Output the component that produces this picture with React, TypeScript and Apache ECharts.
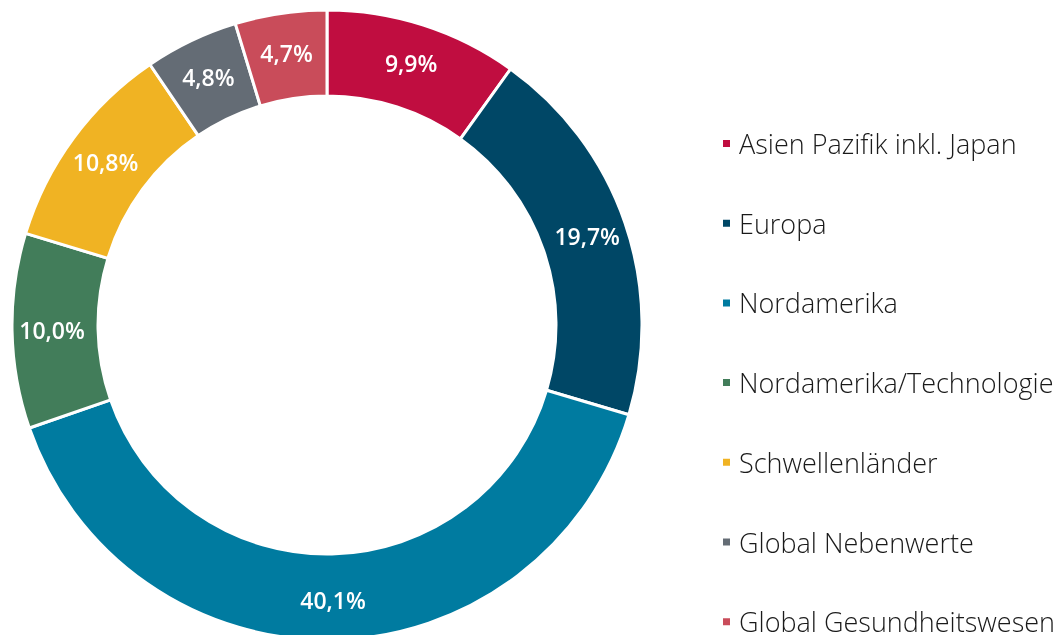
import React, { useEffect, useRef } from "react";
import * as echarts from "echarts";

const categories = [
  "Asien Pazifik inkl. Japan",
  "Europa",
  "Nordamerika",
  "Nordamerika/Technologie",
  "Schwellenländer",
  "Global Nebenwerte",
  "Global Gesundheitswesen",
];
const values = [9.9, 19.7, 40.1, 10.0, 10.8, 4.8, 4.7];
const colors = ["#C00D40", "#004766", "#007BA0", "#427D5A", "#F0B323", "#646C75", "#C94C5A"];

export default function App() {
  const ref = useRef<HTMLDivElement>(null);
  useEffect(() => {
    const chart = echarts.init(ref.current!, null, { renderer: "svg" });
    chart.setOption({
      animation: false,
      legend: {
        orient: "vertical",
        left: 721,
        top: 130,
        height: 620,
        padding: 0,
        itemWidth: 9,
        itemHeight: 9,
        itemGap: 52.7,
        icon: "rect",
        textStyle: {
          fontSize: 27,
          fontWeight: 300,
          lineHeight: 20,
          color: "#1a1a1a",
          fontFamily: "Open Sans",
          padding: [0, 0, 0, 3],
        },
        data: categories,
      },
      series: [
        {
          type: "pie",
          center: [327, 325],
          radius: [229, 315],
          startAngle: 90,
          clockwise: true,
          avoidLabelOverlap: false,
          itemStyle: { borderColor: "#fff", borderWidth: 3 },
          label: {
            show: true,
            position: "inside",
            formatter: (p: any) => p.value.toFixed(1).replace(".", ",") + "%",
            color: "#fff",
            fontSize: 23,
            fontWeight: 600,
            fontFamily: "Open Sans",
          },
          labelLine: { show: false },
          data: categories.map((c, i) => ({ name: c, value: values[i], itemStyle: { color: colors[i] } })),
        },
      ],
    });
    return () => chart.dispose();
  }, []);
  return <div ref={ref} style={{ position: "fixed", left: 0, top: 0, width: 1053, height: 635 }} />;
}
